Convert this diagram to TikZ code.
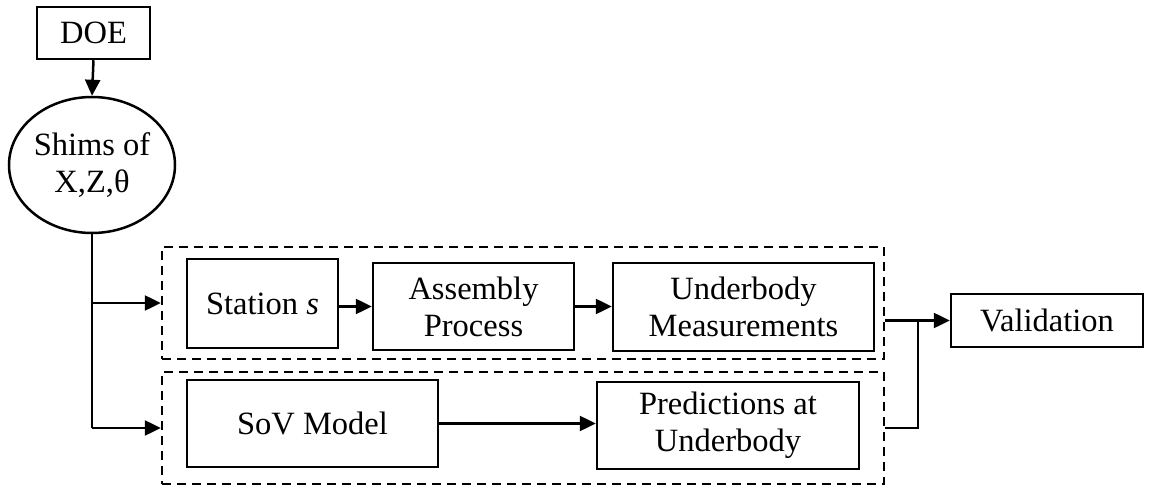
\documentclass[tikz,border=0pt]{standalone}
\usepackage{fontspec}
\setmainfont{Liberation Serif}
\usetikzlibrary{arrows.meta,shapes.geometric}
\begin{document}
\begin{tikzpicture}[x=1pt,y=-1pt,
  every node/.style={font=\fontsize{32.5}{37}\selectfont, align=center, inner sep=0pt},
  blk/.style={draw, line width=2.5pt, rectangle},
  grp/.style={draw, line width=2.5pt, rectangle, dash pattern=on 9pt off 6pt},
  conn/.style={line width=2.5pt},
  arr/.style={conn, -{Triangle[length=16pt,width=15pt]}}]
\useasboundingbox (0,0) rectangle (1149,486);

% source and parameters
\node[blk, minimum width=113pt, minimum height=52pt] (doe) at (93.5,33) {DOE};
\node[draw, ellipse, line width=2.5pt, minimum width=166pt, minimum height=136pt] (shim) at (92,165) {Shims of\\X,Z,θ};

% dashed groups
\node[grp, minimum width=722pt, minimum height=112pt] (ubox) at (523,303) {};
\node[grp, minimum width=722pt, minimum height=112pt] (lbox) at (523,428) {};

% physical chain
\node[blk, minimum width=151pt, minimum height=89pt] (st) at (262.5,303.5) {Station \textit{s}};
\node[blk, minimum width=201pt, minimum height=87pt] (asm) at (473.5,306.5) {Assembly\\Process};
\node[blk, minimum width=261pt, minimum height=88pt] (meas) at (743.5,307) {Underbody\\Measurements};

% model chain
\node[blk, minimum width=251pt, minimum height=87pt] (sov) at (312.5,423.5) {SoV Model};
\node[blk, minimum width=262pt, minimum height=87pt] (pred) at (728,425.5) {Predictions at\\Underbody};

% validation
\node[blk, minimum width=192pt, minimum height=53pt] (val) at (1047,320.5) {Validation};

% connectors
\draw[arr] (doe.south) -- (shim.north);
\coordinate (split) at (shim.south |- lbox.west);
\draw[conn] (shim.south) -- (split);
\draw[arr] (shim.south |- ubox.west) -- (ubox.west);
\draw[arr] (split) -- (lbox.west);
\draw[arr] (st.east |- asm.west) -- (asm.west);
\draw[arr] (asm.east) -- (asm.east -| meas.west);
\draw[arr] (sov.east) -- (sov.east -| pred.west);
\coordinate (join) at (918,428);
\draw[arr] (val.west -| ubox.east) -- (val.west);
\draw[conn] (lbox.east) -- (join) -- (join |- val.west);
\end{tikzpicture}
\end{document}
